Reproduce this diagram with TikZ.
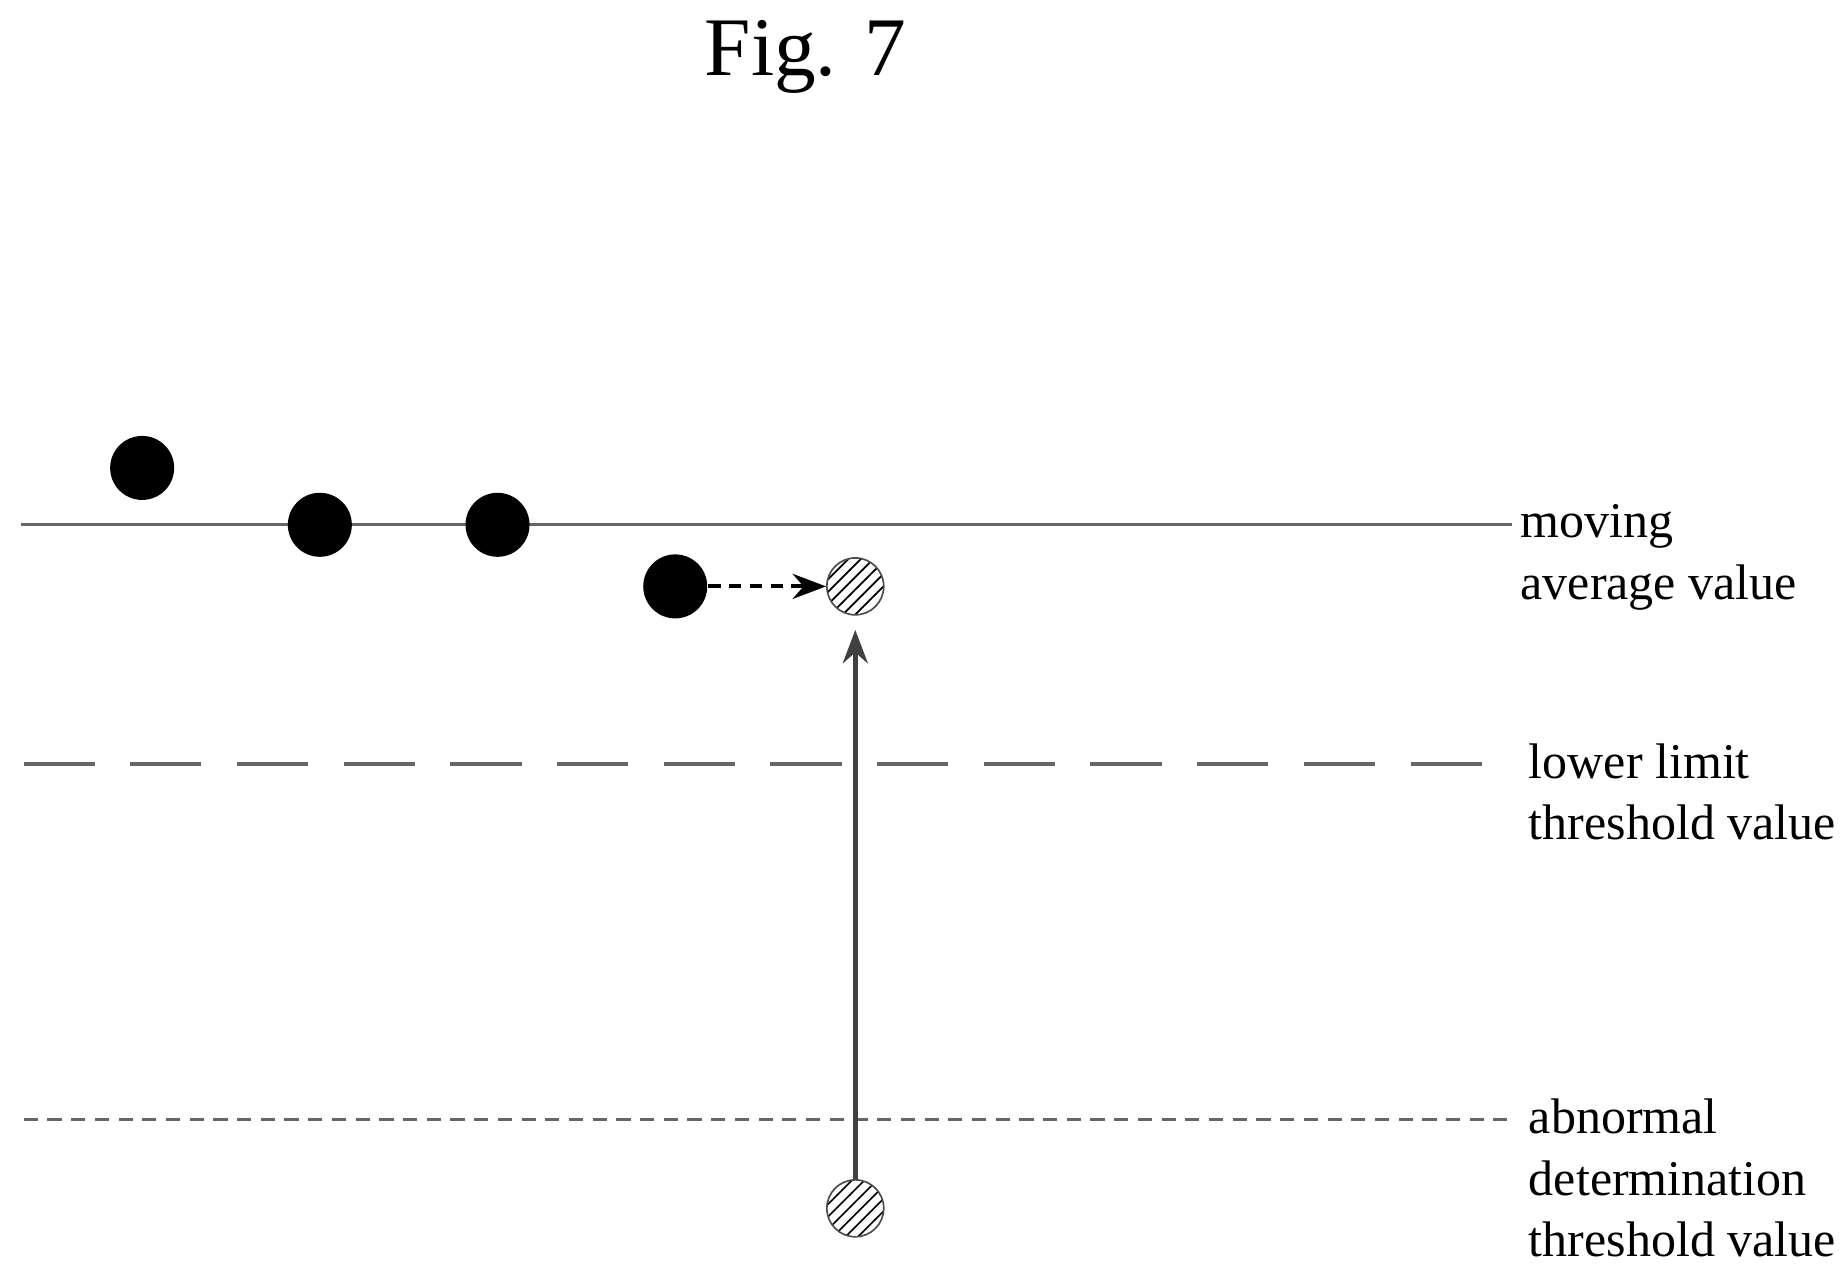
\documentclass[tikz,border=0pt]{standalone}
\usepackage{fontspec}
\setmainfont{Liberation Serif}
\usetikzlibrary{patterns,arrows.meta}
\begin{document}
\begin{tikzpicture}[x=0.01cm,y=-0.01cm,
  dot/.style={circle,fill=black,minimum size=0.54cm,inner sep=0pt},
  hdot/.style={circle,draw=black!70,pattern=north east lines,minimum size=0.48cm,inner sep=0pt},
  lbl/.style={anchor=north west,align=left,font=\fontsize{12pt}{14.8pt}\selectfont,inner sep=0pt},
  ln/.style={draw=black!60,line width=0.8pt}]
\useasboundingbox (0,0) rectangle (1560,1072);
\node[font=\fontsize{20pt}{24pt}\selectfont] (fig) at (680,48) {Fig. 7};
\coordinate (s1) at (18,443); \coordinate (s2) at (1276,443);
\coordinate (d1) at (20,645); \coordinate (d2) at (1280,645);
\coordinate (a1) at (20,945); \coordinate (a2) at (1272,945);
\draw[ln] (s1) -- (s2);
\draw[ln,dash pattern=on 22pt off 12pt,dash pattern=on 0.6cm off 0.3cm] (d1) -- (d2);
\draw[ln,dash pattern=on 0.12cm off 0.08cm] (a1) -- (a2);
\node[lbl] (t1) at (1283,425) {moving\\average value};
\node[lbl] (t2) at (1290,627) {lower limit\\threshold value};
\node[lbl] (t3) at (1290,927) {abnormal\\determination\\threshold value};
\node[dot] (p1) at (120,395) {};
\node[dot] (p2) at (270,443) {};
\node[dot] (p3) at (420,443) {};
\node[dot] (p4) at (570,495) {};
\node[hdot] (h1) at (722,495) {};
\node[hdot] (h2) at (722,1020) {};
\draw[-{Stealth[length=8pt]},densely dashed,line width=1pt] (p4) -- (h1);
\draw[-{Stealth[length=8pt]},black!75,line width=1.2pt] (h2) -- ([yshift=-0.12cm]h1.south);
\end{tikzpicture}
\end{document}
